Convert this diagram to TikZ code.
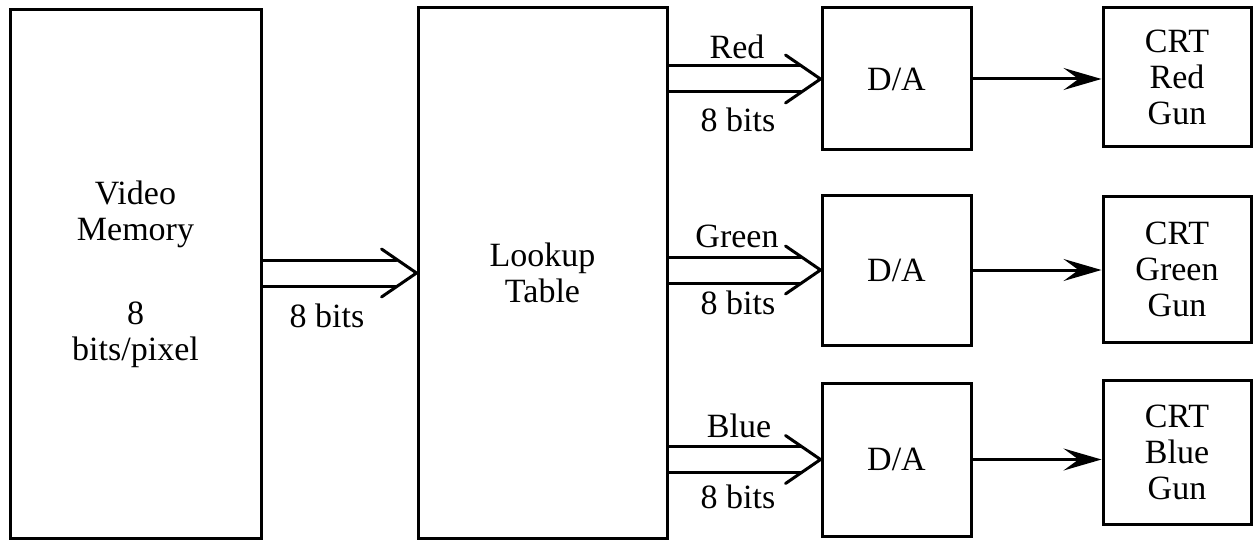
\documentclass[tikz,border=0pt]{standalone}
\usepackage{fontspec}
\setmainfont{Liberation Serif}
\usetikzlibrary{arrows.meta,calc}
\newcommand\busarrow[2]{%
  \draw[bus] ($(#1.east |- #2)+(0,-13)$) -- ($(#2)+(-20,-13)$);
  \draw[bus] ($(#1.east |- #2)+(0,13)$) -- ($(#2)+(-20,13)$);
  \draw[bus] ($(#2)+(-35,-24)$) -- (#2) -- ($(#2)+(-35,24)$);
}
\begin{document}
\begin{tikzpicture}[x=1pt,y=-1pt,
  txt/.style={font=\fontsize{34}{36}\selectfont},
  box/.style={draw, line width=3pt, inner sep=0pt, align=center, txt},
  lbl/.style={txt, inner sep=0pt, anchor=base},
  bus/.style={line width=3pt, line join=round, line cap=round},
  sig/.style={line width=3pt, -{Stealth[length=38pt,width=22pt,inset=15pt]}}]
\useasboundingbox (0,0) rectangle (1257,540);
\node[box, minimum width=251pt, minimum height=528pt] (vm) at (135.5,274) {Video\\Memory\\[48pt]8\\bits/pixel};
\node[box, minimum width=249pt, minimum height=530pt] (lt) at (542.5,273) {Lookup\\Table};
\node[box, minimum width=149pt, minimum height=142pt] (dar) at (896.5,79) {D/A};
\node[box, minimum width=149pt, minimum height=150pt] (dag) at (896.5,270) {D/A};
\node[box, minimum width=149pt, minimum height=153pt] (dab) at (896.5,459.5) {D/A};
\node[box, minimum width=148pt, minimum height=139pt] (crtr) at (1177,77.5) {CRT\\Red\\Gun};
\node[box, minimum width=148pt, minimum height=146pt] (crtg) at (1177,269) {CRT\\Green\\Gun};
\node[box, minimum width=148pt, minimum height=144pt] (crtb) at (1177,452) {CRT\\Blue\\Gun};
\busarrow{vm}{lt.west}
\busarrow{lt}{dar.west}
\busarrow{lt}{dag.west}
\busarrow{lt}{dab.west}
\node[lbl] (b0) at (327,327) {8 bits};
\node[lbl] (lr) at (737,59) {Red};
\node[lbl] (br) at (738,132) {8 bits};
\node[lbl] (lg) at (737,247) {Green};
\node[lbl] (bg) at (738,314) {8 bits};
\node[lbl] (lb) at (739,437) {Blue};
\node[lbl] (bb) at (738,508) {8 bits};
\draw[sig] (dar.east) -- (crtr.west |- dar.east);
\draw[sig] (dag.east) -- (crtg.west |- dag.east);
\draw[sig] (dab.east) -- (crtb.west |- dab.east);
\end{tikzpicture}
\end{document}
